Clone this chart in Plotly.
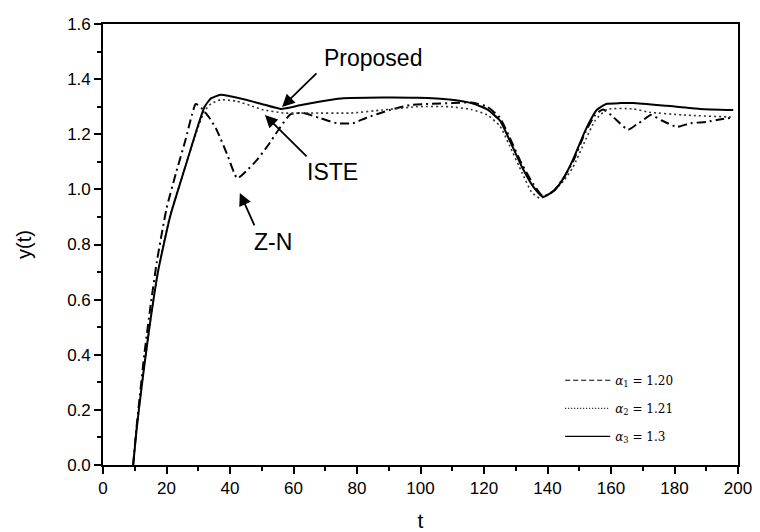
import plotly.graph_objects as go

# ---- data ----
t_prop = [9.5, 10.5, 11.5, 13, 15, 17.3, 21.1, 23.7, 26.4, 29.6, 32, 34, 37, 40, 45, 50, 56, 62, 68, 75, 88, 99,
          109, 116, 121, 125, 128, 132, 135.5, 138.6, 142, 145, 148, 152, 155.5, 158.5, 163, 167, 177.5, 188, 198.5]
y_prop = [0, 0.12, 0.22, 0.36, 0.53, 0.70, 0.90, 1.0, 1.10, 1.22, 1.30, 1.33, 1.343, 1.338, 1.325, 1.31, 1.292,
          1.305, 1.318, 1.33, 1.333, 1.332, 1.326, 1.313, 1.29, 1.25, 1.18, 1.08, 1.01, 0.973, 0.995, 1.04, 1.107,
          1.216, 1.288, 1.31, 1.313, 1.313, 1.303, 1.292, 1.288]

t_iste = [9.5, 10.5, 11.5, 13, 15, 17.3, 21, 23.7, 26.4, 29.5, 32, 34, 37, 42, 47, 50, 57, 65, 78, 88, 99, 109,
          116, 121, 125, 128, 132, 135, 137.6, 141, 145, 148, 152, 155, 158.7, 167, 172, 182.7, 196.5, 198.5]
y_iste = [0, 0.12, 0.22, 0.36, 0.53, 0.70, 0.90, 1.0, 1.10, 1.21, 1.285, 1.31, 1.325, 1.32, 1.302, 1.29, 1.277,
          1.277, 1.277, 1.288, 1.30, 1.30, 1.29, 1.27, 1.23, 1.16, 1.06, 0.99, 0.968, 0.985, 1.03, 1.08, 1.18, 1.25,
          1.29, 1.292, 1.28, 1.27, 1.263, 1.262]

t_zn = [9.5, 10.5, 11.5, 13, 15, 17, 20, 23, 26, 28, 29.2, 31, 33.5, 35.8, 39, 42.3, 45, 48.5, 52, 55.5, 59, 63,
        68, 73.7, 78.7, 83, 90.4, 96.7, 103, 110, 116, 121, 125, 128, 132, 135.5, 138.6, 142, 145, 148, 152, 155,
        157.5, 160, 162.8, 165.4, 168, 170, 172.5, 176, 180.8, 185, 190, 195, 198.5]
y_zn = [0, 0.13, 0.24, 0.40, 0.58, 0.74, 0.93, 1.06, 1.18, 1.27, 1.31, 1.295, 1.26, 1.216, 1.13, 1.04, 1.065,
        1.107, 1.16, 1.22, 1.272, 1.277, 1.26, 1.24, 1.24, 1.26, 1.288, 1.306, 1.31, 1.313, 1.315, 1.30, 1.26,
        1.19, 1.09, 1.02, 0.975, 0.995, 1.04, 1.10, 1.21, 1.27, 1.29, 1.27, 1.24, 1.216, 1.235, 1.25, 1.27, 1.25,
        1.227, 1.24, 1.245, 1.255, 1.26]

legend_labels = ["<i>α</i><sub>1</sub> = 1.20", "<i>α</i><sub>2</sub> = 1.21", "<i>α</i><sub>3</sub> = 1.3"]
legend_dashes = ["5px,3px", "1px,2px", "solid"]

x_ticks = list(range(0, 201, 20))
y_ticks = [0.0, 0.2, 0.4, 0.6, 0.8, 1.0, 1.2, 1.4, 1.6]

fig = go.Figure()
fig.add_trace(go.Scatter(x=t_zn, y=y_zn, mode="lines", showlegend=False,
                         line=dict(color="black", width=2, dash="9px,4px,2px,4px", shape="spline", smoothing=0.5)))
fig.add_trace(go.Scatter(x=t_iste, y=y_iste, mode="lines", showlegend=False,
                         line=dict(color="#333", width=1.6, dash="2px,3px", shape="spline", smoothing=0.5)))
fig.add_trace(go.Scatter(x=t_prop, y=y_prop, mode="lines", showlegend=False,
                         line=dict(color="black", width=2, shape="spline", smoothing=0.5)))

for i, (lab, d) in enumerate(zip(legend_labels, legend_dashes)):
    fig.add_trace(go.Scatter(x=[None], y=[None], mode="lines", name=lab, legendgroup=str(i),
                             line=dict(color="black", width=1.2, dash=d)))

axis_common = dict(showline=True, linecolor="black", linewidth=1.6, mirror=True, showgrid=False, zeroline=False,
                   ticks="outside", ticklen=7, tickwidth=1.5, tickcolor="black", automargin=False,
                   tickfont=dict(family="Liberation Sans, Arial", size=17, color="black"))

fig.update_xaxes(range=[0, 200], tickvals=x_ticks,
                 minor=dict(dtick=10, ticks="outside", ticklen=4, tickcolor="black", tickwidth=1.5),
                 title=dict(text="t", font=dict(family="Liberation Sans, Arial", size=21, color="black"), standoff=18),
                 **axis_common)
fig.update_yaxes(range=[0, 1.6], tickvals=y_ticks, tickformat=".1f",
                 minor=dict(dtick=0.1, ticks="outside", ticklen=4, tickcolor="black", tickwidth=1.5),
                 title=dict(text="y(t)", font=dict(family="Liberation Sans, Arial", size=20, color="black"), standoff=30),
                 **axis_common)

ann_font = dict(family="Liberation Sans, Arial", size=23, color="black")
# arrows (head at x,y ; tail at ax,ay in data units)
arrows = [(56.4, 1.299, 67.7, 1.426), (51.0, 1.27, 64.6, 1.114), (43.1, 0.987, 47.9, 0.864)]
for hx, hy, tx, ty in arrows:
    fig.add_annotation(x=hx, y=hy, ax=tx, ay=ty, axref="x", ayref="y", xref="x", yref="y", text="",
                       showarrow=True, arrowhead=2, arrowsize=1.4, arrowwidth=1.8, arrowcolor="black")
labels = [("Proposed", 85.0, 1.477), ("ISTE", 72.4, 1.063), ("Z-N", 53.5, 0.809)]
for txt, x, y in labels:
    fig.add_annotation(x=x, y=y, text=txt, showarrow=False, font=ann_font, xref="x", yref="y")

# the page body adds an 8 px margin, so the figure is 8 px smaller and margins shifted
fig.update_layout(
    width=752, height=524,
    margin=dict(l=95, r=22, t=16, b=67),
    paper_bgcolor="white", plot_bgcolor="white",
    legend=dict(x=0.72, y=0.225, xanchor="left", yanchor="top", bgcolor="rgba(0,0,0,0)",
                font=dict(family="DejaVu Serif", size=12, color="black"), itemwidth=45, tracegroupgap=9),
)

fig.write_html("out.html")
